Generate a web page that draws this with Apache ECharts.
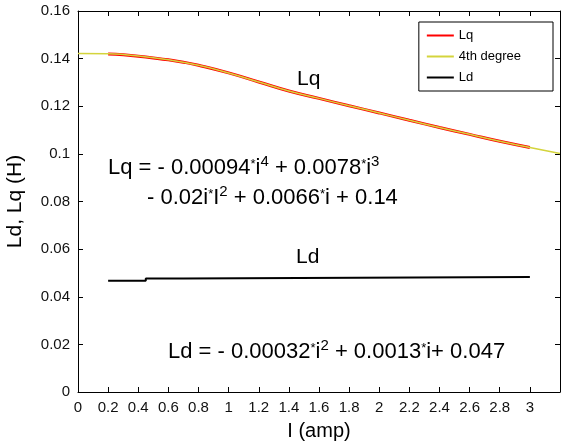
<!DOCTYPE html>
<html><head><meta charset="utf-8">
<script src="https://cdn.jsdelivr.net/npm/echarts@6/dist/echarts.min.js"></script>
<style>html,body{margin:0;padding:0;background:#fff}#c{width:561px;height:448px}</style>
</head><body><div id="c"></div>
<script>
// Measured Lq
const lqX = [0.2, 0.3, 0.4, 0.5, 0.6, 0.7, 0.8, 1.0, 1.2, 1.4, 1.6, 1.8, 2.0, 2.2, 2.4, 2.6, 2.8, 3.0];
const lqY = [0.1419, 0.1416, 0.1410, 0.1403, 0.1395, 0.1385, 0.1372, 0.1340, 0.1302, 0.1264, 0.1233, 0.1202, 0.1172, 0.1141, 0.1111, 0.1082, 0.1053, 0.1027];
// 4th degree fit
const fitX = [0, 0.2, 0.4, 0.6, 0.8, 1.0, 1.2, 1.4, 1.6, 1.8, 2.0, 2.2, 2.4, 2.6, 2.8, 3.0, 3.2];
const fitY = [0.1422, 0.1420, 0.1411, 0.1395, 0.1372, 0.1340, 0.1302, 0.1264, 0.1233, 0.1202, 0.1172, 0.1141, 0.1111, 0.1082, 0.1053, 0.1027, 0.1002];
// Ld (stepped measurement)
const ldX = [0.2, 0.45, 0.45, 0.7, 0.7, 3.0];
const ldY = [0.0467, 0.0467, 0.0477, 0.0477, 0.0483, 0.0483];
const xTicks = ['0','0.2','0.4','0.6','0.8','1','1.2','1.4','1.6','1.8','2','2.2','2.4','2.6','2.8','3'];
const yTicks = ['0','0.02','0.04','0.06','0.08','0.1','0.12','0.14','0.16'];

const zip = (a, b) => a.map((v, i) => [v, b[i]]);
const chart = echarts.init(document.getElementById('c'), null, {renderer: 'canvas'});
const F = 'Arial, "Liberation Sans", sans-serif';
const axLine = {show: true, onZero: false, lineStyle: {color: '#000', width: 1}};
const tick = {show: true, inside: true, length: 5, lineStyle: {color: '#000'}};
const rich = {
  p: {fontSize: 15, fontFamily: F, padding: [0, 0, 12, 0]},
  s: {fontSize: 13, fontFamily: F, padding: [0, 0, 7, 0]}
};
chart.setOption({
  animation: false,
  grid: {left: 78, top: 11, right: 1, bottom: 56, show: false, outerBoundsMode: 'none', containLabel: false},
  legend: {
    orient: 'vertical', right: 8, top: 22,
    borderColor: '#000', borderWidth: 1, backgroundColor: '#fff',
    padding: [7, 32, 7, 8], itemGap: 8, itemWidth: 27, itemHeight: 2,
    textStyle: {fontFamily: F, fontSize: 13, color: '#000'},
    data: [{name: 'Lq', icon: 'rect'}, {name: '4th degree', icon: 'rect'}, {name: 'Ld', icon: 'rect'}]
  },
  xAxis: [{
    type: 'value', min: 0, max: 3.2, interval: 0.2,
    name: 'I (amp)', nameLocation: 'middle', nameGap: 29,
    nameTextStyle: {fontFamily: F, fontSize: 20, color: '#000'},
    axisLine: axLine, axisTick: tick, splitLine: {show: false},
    axisLabel: {fontFamily: F, fontSize: 15, color: '#111', margin: 8,
      formatter: v => { const i = Math.round(v / 0.2); return i < xTicks.length ? xTicks[i] : ''; }}
  }, {
    type: 'value', min: 0, max: 3.2, interval: 0.2, position: 'top',
    axisLine: axLine, axisTick: tick, axisLabel: {show: false}, splitLine: {show: false}
  }],
  yAxis: [{
    type: 'value', min: 0, max: 0.16, interval: 0.02,
    name: 'Ld, Lq (H)', nameLocation: 'middle', nameGap: 52, nameRotate: 90,
    nameTextStyle: {fontFamily: F, fontSize: 21, color: '#000'},
    axisLine: axLine, axisTick: tick, splitLine: {show: false},
    axisLabel: {fontFamily: F, fontSize: 15, color: '#111', margin: 8,
      formatter: v => yTicks[Math.round(v / 0.02)]}
  }, {
    type: 'value', min: 0, max: 0.16, interval: 0.02, position: 'right',
    axisLine: axLine, axisTick: tick, axisLabel: {show: false}, splitLine: {show: false}
  }],
  series: [
    {name: 'Lq', type: 'line', data: zip(lqX, lqY), showSymbol: false, smooth: true,
      lineStyle: {color: '#ff0000', width: 3}, itemStyle: {color: '#ff0000'}, z: 3},
    {name: '4th degree', type: 'line', data: zip(fitX, fitY), showSymbol: false, smooth: true,
      lineStyle: {color: '#d4d43c', width: 1.5}, itemStyle: {color: '#d4d43c'}, z: 4},
    {name: 'Ld', type: 'line', data: zip(ldX, ldY), showSymbol: false,
      lineStyle: {color: '#000', width: 2}, itemStyle: {color: '#000'}, z: 3}
  ],
  graphic: [
    {type: 'text', left: 297, top: 69, style: {text: 'Lq', font: '21px ' + F, fill: '#000'}},
    {type: 'text', left: 296, top: 247, style: {text: 'Ld', font: '21px ' + F, fill: '#000'}},
    {type: 'text', left: 108, top: 154, style: {
      text: 'Lq = - 0.00094{s|*}i{p|4} + 0.0078{s|*}i{p|3}', font: '22px ' + F, fill: '#000', rich}},
    {type: 'text', left: 147, top: 184, style: {
      text: '- 0.02i{s|*}I{p|2} + 0.0066{s|*}i + 0.14', font: '22px ' + F, fill: '#000', rich}},
    {type: 'text', left: 168, top: 338, style: {
      text: 'Ld = - 0.00032{s|*}i{p|2} + 0.0013{s|*}i+ 0.047', font: '22px ' + F, fill: '#000', rich}}
  ]
});
</script></body></html>
